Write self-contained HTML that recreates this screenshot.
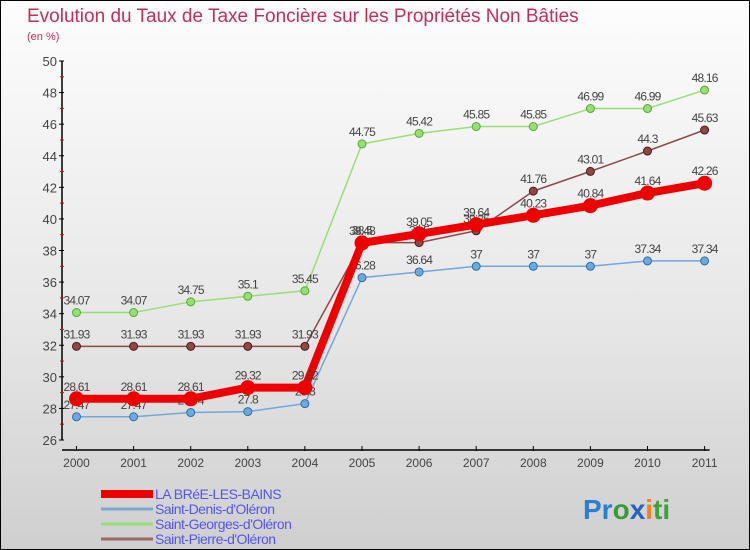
<!DOCTYPE html>
<html><head><meta charset="utf-8"><style>
body{margin:0}
#c{position:relative;width:748px;height:548px;border:1px solid #000;background:linear-gradient(#fdfdfd,#e6e6e6 60%,#cfcfcf);font-family:"Liberation Sans",sans-serif;overflow:hidden}
</style></head><body>
<div id="c">
<svg id="s" width="748" height="548" xmlns="http://www.w3.org/2000/svg">
<text x="26" y="21" font-size="19" fill="#c0305a">Evolution du Taux de Taxe Foncière sur les Propriétés Non Bâties</text>
<text x="26" y="39" font-size="11" fill="#c0305a">(en %)</text>
<g id="axes"></g><g id="series"></g><g id="legend"></g>
<text x="582" y="518" font-size="28" font-weight="bold"><tspan fill="#2a7fd0">Pr</tspan><tspan fill="#3a9a3a">o</tspan><tspan fill="#2a60c0">x</tspan><tspan fill="#f08020">i</tspan><tspan fill="#40a040">ti</tspan></text>
</svg></div>
<script>
const years=[2000,2001,2002,2003,2004,2005,2006,2007,2008,2009,2010,2011];
const laBree=[28.61,28.61,28.61,29.32,29.32,38.48,39.05,39.64,40.23,40.84,41.64,42.26];
const stDenis=[27.47,27.47,27.74,27.8,28.3,36.28,36.64,37,37,37,37.34,37.34];
const stGeorges=[34.07,34.07,34.75,35.1,35.45,44.75,45.42,45.85,45.85,46.99,46.99,48.16];
const stPierre=[31.93,31.93,31.93,31.93,31.93,38.5,38.5,39.25,41.76,43.01,44.3,45.63];
const yTicks=[26,28,30,32,34,36,38,40,42,44,46,48,50];
const seriesNames=["LA BRéE-LES-BAINS","Saint-Denis-d'Oléron","Saint-Georges-d'Oléron","Saint-Pierre-d'Oléron"];
const NS="http://www.w3.org/2000/svg";
const X=i=>75.5+i*57.1;
const Y=v=>439-(v-26)*(379/24);
function mk(tag,attrs,parent){const e=document.createElementNS(NS,tag);for(const k in attrs)e.setAttribute(k,attrs[k]);parent.appendChild(e);return e;}
const ax=document.getElementById('axes');
let e=mk('line',{x1:61,y1:Y(50),x2:61,y2:Y(26),stroke:'#000','stroke-width':1.5},ax);


e=mk('line',{x1:61,y1:449,x2:X(11)+5,y2:449,stroke:'#000','stroke-width':1.5},ax);


yTicks.forEach((t,i)=>{
 mk('line',{x1:58,y1:Y(t),x2:63,y2:Y(t),stroke:'#000'},ax);
 if(i<yTicks.length-1) mk('line',{x1:59,y1:Y(t+1),x2:63,y2:Y(t+1),stroke:'#e00'},ax);
 const tx=mk('text',{x:56,y:Y(t)+5,'font-size':13,'text-anchor':'end',fill:'#444'},ax);
 tx.textContent=t;
 
 
});
years.forEach((y,i)=>{
 mk('line',{x1:X(i),y1:445,x2:X(i),y2:450,stroke:'#000'},ax);
 const tx=mk('text',{x:X(i),y:466,'font-size':12,'text-anchor':'middle',fill:'#444'},ax);
 tx.textContent=y;
 
 
});
const sg=document.getElementById('series');
function draw(vals,color,w,r,name,stroke){
 const g=mk('g',{},sg);
 
 
 mk('polyline',{points:vals.map((v,i)=>X(i)+','+Y(v)).join(' '),fill:'none',stroke:color,'stroke-width':w,'stroke-linejoin':'round'},g);
 vals.forEach((v,i)=>{
  const c=mk('circle',{cx:X(i),cy:Y(v),r:r,fill:color,stroke:stroke,'stroke-width':1},g);
  
  
  const t=mk('text',{x:X(i),y:Y(v)-8,'font-size':12,'text-anchor':'middle',fill:'#444','letter-spacing':'-0.8'},g);
  t.textContent=v;
  
  
 });
}
draw(stDenis,'#6fa8dc',1.5,4,'series-saint-denis','#2a70a8');
draw(stGeorges,'#99dd77',1.5,4,'series-saint-georges','#55aa33');
draw(stPierre,'#8b4a4a',1.5,4,'series-saint-pierre','#551515');
draw(laBree,'#ee0000',8,7,'series-la-bree','#ee0000');
const lg=document.getElementById('legend');
const lc=['#ee0000','#7aaad0','#99dd77','#9a6a6a'],lw=[8,3,3,3];
seriesNames.forEach((n,i)=>{
 const yy=493+i*15;
 const l=mk('line',{x1:100,y1:yy,x2:152,y2:yy,stroke:lc[i],'stroke-width':lw[i]},lg);
 
 
 const t=mk('text',{x:154,y:yy+5,'font-size':14,fill:'#5555ee','letter-spacing':'-0.5'},lg);
 t.textContent=n;
 
 
});
</script>
</body></html>
